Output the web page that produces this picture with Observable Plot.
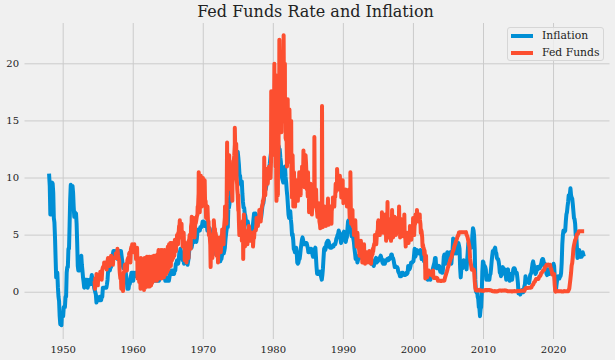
<!DOCTYPE html>
<html><head><meta charset="utf-8">
<script src="https://cdn.jsdelivr.net/npm/d3@7"></script>
<script src="https://cdn.jsdelivr.net/npm/@observablehq/plot@0.6"></script>
<style>
html,body{margin:0;padding:0;background:#f0f0f0;}
#wrap{position:relative;width:615px;height:360px;overflow:hidden;background:#f0f0f0;}
#title{height:23px;box-sizing:border-box;padding-top:1px;padding-left:16px;line-height:22px;text-align:center;font-family:"DejaVu Serif";font-size:16px;color:#222;white-space:nowrap;}
#legend{position:absolute;left:507px;top:27px;width:97px;height:34px;box-sizing:border-box;border:1px solid #d6d6d6;border-radius:3px;background:rgba(240,240,240,0.8);font-family:"DejaVu Serif";font-size:10.8px;color:#222;}
.item{position:absolute;left:3px;height:16px;line-height:16px;white-space:nowrap;}
.sw{position:absolute;left:0;top:6px;width:22px;height:4px;}
.lab{position:absolute;left:31px;top:0;}
</style></head>
<body>
<div id="wrap">
<div id="title">Fed Funds Rate and Inflation</div>
<div id="chart"></div>
<div id="legend"></div>
</div>
<script>
// ---- data ----
const seriesNames = ["Inflation", "Fed Funds"];
const seriesColors = ["#008fd5", "#fc4f30"];
const xTicks = [1950, 1960, 1970, 1980, 1990, 2000, 2010, 2020];
const yTicks = [0, 5, 10, 15, 20];

// CPI inflation, year over year %, monthly from January 1948
const inflationStart = 1948;
const inflation = [
10.2,9.3,6.8,8.3,9.4,9.6,9.5,8.7,6.5,6.1,4.8,3.0,
1.3,1.3,1.7,0.4,-0.4,-0.8,-2.1,-2.8,-2.4,-2.9,-1.8,-2.1,
-2.1,-1.3,-1.3,-1.3,-0.4,-0.4,1.7,2.2,2.2,3.8,3.8,5.9,
8.1,9.4,9.3,9.3,9.3,8.7,7.5,6.6,7.0,6.9,6.9,6.0,
4.3,2.3,1.9,2.3,1.9,2.3,3.0,3.2,2.4,1.9,1.3,0.9,
0.4,0.6,1.1,0.8,1.1,1.1,0.4,0.7,0.7,1.1,0.7,0.7,
1.1,1.5,1.1,0.7,0.9,0.4,0.2,0.0,-0.2,-0.9,-0.4,-0.7,
-0.7,-0.7,-0.7,-0.4,-0.7,-0.7,-0.4,-0.4,0.4,0.4,0.4,0.4,
0.4,0.4,0.4,0.7,1.1,1.9,2.2,1.9,1.9,2.2,2.2,2.9,
2.9,3.3,3.6,3.6,3.6,3.3,3.3,3.6,3.3,2.9,3.3,2.9,
3.6,3.2,3.6,3.6,3.2,2.8,2.4,2.1,2.1,2.1,2.1,1.8,
1.4,1.0,0.3,0.3,0.3,0.7,0.7,1.0,1.4,1.7,1.4,1.7,
1.0,1.7,1.4,1.7,1.7,1.7,1.4,1.4,1.4,1.4,1.4,1.4,
1.7,1.4,1.4,1.0,1.0,0.7,1.3,1.0,1.3,0.7,0.7,0.7,
0.7,1.0,1.0,1.3,1.3,1.3,1.0,1.3,1.3,1.3,1.3,1.3,
1.3,1.0,1.0,1.0,1.0,1.3,1.6,1.3,1.0,1.3,1.3,1.6,
1.6,1.6,1.3,1.3,1.3,1.3,1.3,1.0,1.3,1.0,1.3,1.0,
1.0,1.0,1.3,1.6,1.6,1.9,1.6,1.9,1.6,1.9,1.6,1.9,
1.9,2.5,2.5,2.8,2.8,2.5,2.8,3.5,3.5,3.8,3.5,3.5,
3.5,2.8,2.8,2.5,2.8,2.8,2.8,2.8,2.8,2.4,2.7,3.0,
3.7,4.0,4.0,4.0,3.9,4.2,4.5,4.4,4.4,4.4,4.8,4.7,
4.4,4.7,5.3,5.5,5.5,5.5,5.4,5.7,5.7,5.7,5.9,6.2,
6.2,6.1,5.8,6.1,6.1,6.0,6.0,5.4,5.7,5.7,5.6,5.6,
5.3,5.0,4.7,4.2,4.4,4.6,4.4,4.6,4.1,3.8,3.3,3.3,
3.3,3.5,3.5,3.5,3.2,2.7,2.9,2.9,3.2,3.4,3.7,3.4,
3.6,3.9,4.6,5.1,5.5,5.9,5.7,7.4,7.4,7.8,8.3,8.7,
9.4,10.0,10.4,10.1,10.7,10.9,11.5,10.9,11.9,12.1,12.2,12.3,
11.8,11.2,10.3,10.2,9.5,9.4,9.7,8.6,7.9,7.4,7.4,6.9,
6.7,6.3,6.1,6.0,6.2,5.9,5.4,5.7,5.5,5.5,4.9,4.9,
5.2,5.9,6.4,6.9,6.7,6.9,6.8,6.6,6.6,6.4,6.7,6.7,
6.8,6.4,6.6,6.5,6.9,7.4,7.7,7.8,8.3,8.9,8.9,9.0,
9.3,9.9,10.2,10.5,10.9,10.9,11.3,11.8,12.2,12.1,12.6,13.3,
13.9,14.2,14.8,14.7,14.4,14.4,13.1,12.9,12.6,12.8,12.6,12.5,
11.8,11.4,10.5,10.0,9.8,9.6,10.8,10.8,11.0,10.1,9.6,8.9,
8.4,7.6,6.8,6.5,6.7,7.1,6.4,5.9,5.0,5.1,4.6,3.8,
3.7,3.5,3.6,3.9,3.5,2.6,2.5,2.6,2.9,2.9,3.3,3.8,
4.2,4.6,4.8,4.6,4.2,4.2,4.2,4.3,4.3,4.3,4.1,3.9,
3.5,3.5,3.7,3.7,3.8,3.8,3.6,3.3,3.1,3.2,3.5,3.8,
3.9,3.1,2.2,1.6,1.6,1.8,1.6,1.6,1.8,1.5,1.3,1.1,
1.5,2.1,3.0,3.8,3.9,3.7,3.9,4.3,4.4,4.5,4.5,4.4,
4.0,3.9,3.9,3.9,3.9,4.0,4.1,4.0,4.2,4.2,4.2,4.4,
4.7,4.8,5.0,5.1,5.4,5.2,5.0,4.7,4.3,4.5,4.7,4.6,
5.2,5.3,5.2,4.7,4.4,4.7,4.8,5.6,6.2,6.3,6.3,6.1,
5.7,5.3,4.9,4.9,5.0,4.7,4.4,3.8,3.4,2.9,3.0,3.1,
2.6,2.8,3.2,3.2,3.0,3.1,3.2,3.1,3.0,3.2,3.0,2.9,
3.3,3.2,3.1,3.2,3.2,3.0,2.8,2.8,2.7,2.8,2.7,2.7,
2.5,2.5,2.5,2.4,2.3,2.5,2.8,2.9,3.0,2.6,2.7,2.7,
2.8,2.9,2.9,3.1,3.2,3.0,2.8,2.6,2.5,2.8,2.6,2.5,
2.7,2.7,2.8,2.9,2.9,2.8,3.0,2.9,3.0,3.0,3.3,3.3,
3.0,3.0,2.8,2.5,2.2,2.3,2.2,2.2,2.2,2.1,1.8,1.7,
1.6,1.4,1.4,1.4,1.7,1.7,1.7,1.6,1.5,1.5,1.5,1.6,
1.7,1.6,1.7,2.3,2.1,2.0,2.1,2.3,2.6,2.6,2.6,2.7,
2.7,3.2,3.8,3.1,3.2,3.7,3.7,3.4,3.5,3.4,3.4,3.4,
3.7,3.5,2.9,3.3,3.6,3.2,2.7,2.7,2.6,2.1,1.9,1.6,
1.1,1.1,1.5,1.6,1.2,1.1,1.5,1.8,1.5,2.0,2.2,2.4,
2.6,3.0,3.0,2.2,2.1,2.1,2.1,2.2,2.3,2.0,1.8,1.9,
1.9,1.7,1.7,2.3,3.1,3.3,3.0,2.7,2.5,3.2,3.5,3.3,
3.0,3.0,3.1,3.5,2.8,2.5,3.2,3.6,4.7,4.3,3.5,3.4,
4.0,3.6,3.4,3.5,4.2,4.3,4.1,3.8,2.1,1.3,2.0,2.5,
2.1,2.4,2.8,2.6,2.7,2.7,2.4,2.0,2.8,3.5,4.3,4.1,
4.3,4.0,4.0,3.9,4.2,5.0,5.6,5.4,4.9,3.7,1.1,0.1,
0.0,0.2,-0.4,-0.6,-1.3,-1.4,-2.1,-1.5,-1.3,-0.2,1.8,2.7,
2.6,2.1,2.3,2.2,2.0,1.1,1.2,1.1,1.1,1.2,1.1,1.5,
1.6,2.1,2.7,3.2,3.6,3.6,3.6,3.8,3.9,3.5,3.4,3.0,
2.9,2.9,2.7,2.3,1.7,1.7,1.4,1.7,2.0,2.2,1.8,1.7,
1.6,2.0,1.5,1.1,1.4,1.8,2.0,1.5,1.2,1.0,1.2,1.5,
1.6,1.1,1.5,2.0,2.1,2.1,2.0,1.7,1.7,1.7,1.3,0.8,
-0.1,0.0,-0.1,-0.2,0.0,0.1,0.2,0.2,0.0,0.2,0.5,0.7,
1.4,1.0,0.9,1.1,1.0,1.0,0.8,1.1,1.5,1.6,1.7,2.1,
2.5,2.7,2.4,2.2,1.9,1.6,1.7,1.9,2.2,2.0,2.2,2.1,
2.1,2.2,2.4,2.5,2.8,2.9,2.9,2.7,2.3,2.5,2.2,1.9,
1.6,1.5,1.9,2.0,1.8,1.6,1.8,1.7,1.7,1.8,2.1,2.3,
2.5,2.3,1.5,0.3,0.1,0.6,1.0,1.3,1.4,1.2,1.2,1.4,
1.4,1.7,2.6,4.2,5.0,5.4,5.4,5.3,5.4,6.2,6.8,7.0,
7.5,7.9,8.5,8.3,8.6,9.1,8.5,8.3,8.2,7.7,7.1,6.5,
6.4,6.0,5.0,4.9,4.0,3.0,3.2,3.7,3.7,3.2,3.1,3.4,
3.1,3.2,3.5,3.3
];

// Effective federal funds rate %, monthly from July 1954
const fedFundsStart = 1954.5;
const fedFunds = [
0.80,1.22,1.07,0.85,0.83,1.28,
1.39,1.29,1.35,1.43,1.43,1.64,1.68,1.96,2.18,2.24,2.35,2.48,
2.45,2.50,2.50,2.62,2.75,2.71,2.75,2.73,2.95,2.96,2.88,2.94,
2.84,3.00,2.96,3.00,3.00,3.00,2.99,3.24,3.47,3.50,3.28,2.98,
2.72,1.67,1.20,1.26,0.63,0.93,0.68,1.53,1.76,1.80,2.27,2.42,
2.48,2.43,2.80,2.96,2.90,3.39,3.47,3.50,3.76,3.98,4.00,3.99,
3.99,3.97,3.84,3.92,3.85,3.32,3.23,2.98,2.60,2.47,2.44,1.98,
1.45,2.54,2.02,1.49,1.98,1.73,1.17,2.00,1.88,2.26,2.61,2.33,
2.15,2.37,2.85,2.78,2.36,2.68,2.71,2.93,2.90,2.90,2.94,2.93,
2.92,3.00,2.98,2.90,3.00,2.99,3.02,3.49,3.48,3.50,3.48,3.38,
3.48,3.48,3.43,3.47,3.50,3.50,3.42,3.50,3.45,3.36,3.52,3.85,
3.90,3.98,4.04,4.09,4.10,4.04,4.09,4.12,4.01,4.08,4.10,4.32,
4.42,4.60,4.65,4.67,4.90,5.17,5.30,5.53,5.40,5.53,5.76,5.40,
4.94,5.00,4.53,4.05,3.94,3.98,3.79,3.90,3.99,3.88,4.13,4.51,
4.60,4.71,5.05,5.76,6.11,6.07,6.03,6.03,5.78,5.91,5.82,6.02,
6.30,6.64,6.79,7.41,8.67,8.90,8.61,9.19,9.15,9.00,8.85,8.97,
8.98,8.98,7.76,8.10,7.95,7.61,7.21,6.61,6.29,6.20,5.60,4.90,
4.14,3.72,3.71,4.16,4.63,4.91,5.31,5.57,5.55,5.20,4.91,4.14,
3.50,3.29,3.83,4.17,4.27,4.46,4.55,4.80,4.87,5.04,5.06,5.33,
5.94,6.58,7.09,7.12,7.84,8.49,10.40,10.50,10.78,10.01,10.03,9.95,
9.65,8.97,9.35,10.51,11.31,11.93,12.92,12.01,11.34,10.06,9.45,8.53,
7.13,6.24,5.54,5.49,5.22,5.55,6.10,6.14,6.24,5.82,5.22,5.20,
4.87,4.77,4.84,4.82,5.29,5.48,5.31,5.29,5.25,5.03,4.95,4.65,
4.61,4.68,4.69,4.73,5.35,5.39,5.42,5.90,6.14,6.47,6.51,6.56,
6.70,6.78,6.79,6.89,7.36,7.60,7.81,8.04,8.45,8.96,9.76,10.03,
10.07,10.06,10.09,10.01,10.24,10.29,10.47,10.94,11.43,13.77,13.18,13.78,
13.82,14.13,17.19,17.61,10.98,9.47,9.03,9.61,10.87,12.81,15.85,18.90,
19.08,15.93,14.70,15.72,18.52,19.10,19.04,17.82,15.87,15.08,13.31,12.37,
13.22,14.78,14.68,14.94,14.45,14.15,12.59,10.12,10.31,9.71,9.20,8.95,
8.68,8.51,8.77,8.80,8.63,8.98,9.37,9.56,9.45,9.48,9.34,9.47,
9.56,9.59,9.91,10.29,10.32,11.06,11.23,11.64,11.30,9.99,9.43,8.38,
8.35,8.50,8.58,8.27,7.97,7.53,7.88,7.90,7.92,7.99,8.05,8.27,
8.14,7.86,7.48,6.99,6.85,6.92,6.56,6.17,5.89,5.85,6.04,6.91,
6.43,6.10,6.13,6.37,6.85,6.73,6.58,6.73,7.22,7.29,6.69,6.77,
6.83,6.58,6.58,6.87,7.09,7.51,7.75,8.01,8.19,8.30,8.35,8.76,
9.12,9.36,9.85,9.84,9.81,9.53,9.24,8.99,9.02,8.84,8.55,8.45,
8.23,8.24,8.28,8.26,8.18,8.29,8.15,8.13,8.20,8.11,7.81,7.31,
6.91,6.25,6.12,5.91,5.78,5.90,5.82,5.66,5.45,5.21,4.81,4.43,
4.03,4.06,3.98,3.73,3.82,3.76,3.25,3.30,3.22,3.10,3.09,2.92,
3.02,3.03,3.07,2.96,3.00,3.04,3.06,3.03,3.09,2.99,3.02,2.96,
3.05,3.25,3.34,3.56,4.01,4.25,4.26,4.47,4.73,4.76,5.29,5.45,
5.53,5.92,5.98,6.05,6.01,6.00,5.85,5.74,5.80,5.76,5.80,5.60,
5.56,5.22,5.31,5.22,5.24,5.27,5.40,5.22,5.30,5.24,5.31,5.29,
5.25,5.19,5.39,5.51,5.50,5.56,5.52,5.54,5.54,5.50,5.52,5.50,
5.56,5.51,5.49,5.45,5.49,5.56,5.54,5.55,5.51,5.07,4.83,4.68,
4.63,4.76,4.81,4.74,4.74,4.76,4.99,5.07,5.22,5.20,5.42,5.30,
5.45,5.73,5.85,6.02,6.27,6.53,6.54,6.50,6.52,6.51,6.51,6.40,
5.98,5.49,5.31,4.80,4.21,3.97,3.77,3.65,3.07,2.49,2.09,1.82,
1.73,1.74,1.73,1.75,1.75,1.75,1.73,1.74,1.75,1.75,1.34,1.24,
1.24,1.26,1.25,1.26,1.26,1.22,1.01,1.03,1.01,1.01,1.00,0.98,
1.00,1.01,1.00,1.00,1.00,1.03,1.26,1.43,1.61,1.76,1.93,2.16,
2.28,2.50,2.63,2.79,3.00,3.04,3.26,3.50,3.62,3.78,4.00,4.16,
4.29,4.49,4.59,4.79,4.94,4.99,5.24,5.25,5.25,5.25,5.25,5.24,
5.25,5.26,5.26,5.25,5.25,5.25,5.26,5.02,4.94,4.76,4.49,4.24,
3.94,2.98,2.61,2.28,1.98,2.00,2.01,2.00,1.81,0.97,0.39,0.16,
0.15,0.22,0.18,0.15,0.18,0.21,0.16,0.16,0.15,0.12,0.12,0.12,
0.11,0.13,0.16,0.20,0.20,0.18,0.18,0.19,0.19,0.19,0.19,0.18,
0.17,0.16,0.14,0.10,0.09,0.09,0.07,0.10,0.08,0.07,0.08,0.07,
0.08,0.10,0.13,0.14,0.16,0.16,0.16,0.13,0.14,0.16,0.16,0.16,
0.14,0.15,0.14,0.15,0.11,0.09,0.09,0.08,0.08,0.09,0.08,0.09,
0.07,0.07,0.08,0.09,0.09,0.10,0.09,0.09,0.09,0.09,0.09,0.12,
0.11,0.11,0.11,0.12,0.12,0.13,0.13,0.14,0.14,0.12,0.12,0.24,
0.34,0.38,0.36,0.37,0.37,0.38,0.39,0.40,0.40,0.40,0.41,0.54,
0.65,0.66,0.79,0.90,0.91,1.04,1.15,1.16,1.15,1.15,1.16,1.30,
1.41,1.42,1.51,1.69,1.70,1.82,1.91,1.91,1.95,2.19,2.20,2.27,
2.40,2.40,2.41,2.42,2.39,2.38,2.40,2.13,2.04,1.83,1.55,1.55,
1.55,1.58,0.65,0.05,0.05,0.08,0.09,0.10,0.09,0.09,0.09,0.09,
0.09,0.08,0.07,0.07,0.06,0.08,0.10,0.09,0.08,0.08,0.08,0.08,
0.08,0.08,0.20,0.33,0.77,1.21,1.68,2.33,2.56,3.08,3.78,4.10,
4.33,4.57,4.65,4.83,5.06,5.08,5.12,5.33,5.33,5.33,5.33,5.33,
5.33,5.33
];

// Daily extremes of the fed funds rate: [year, %]
const fedFundsDaily = [
[1954.55,0.3],[1954.75,1.6],[1954.95,0.6],[1955.3,1.8],[1955.5,1.1],[1955.85,2.6],
[1956.2,2.0],[1956.4,3.0],[1956.6,2.3],[1956.85,3.2],[1957.1,2.4],[1957.5,3.4],[1957.75,3.8],
[1958.05,2.0],[1958.3,0.3],[1958.45,1.6],[1958.55,0.1],[1958.8,2.4],
[1959.1,1.9],[1959.4,3.2],[1959.6,2.6],[1959.85,4.2],[1960.05,3.5],
[1960.15,4.2],[1960.4,2.9],[1960.55,3.9],[1960.62,1.2],[1960.75,3.0],[1960.85,0.9],[1960.95,2.8],
[1961.04,0.3],[1961.1,3.0],[1961.2,0.6],[1961.27,2.9],[1961.37,0.3],[1961.45,2.6],[1961.54,0.2],[1961.62,3.0],[1961.7,0.4],[1961.79,2.9],[1961.87,0.6],[1961.95,3.1],
[1962.04,0.5],[1962.12,3.0],[1962.2,0.8],[1962.29,3.1],[1962.37,0.5],[1962.45,3.0],[1962.54,0.6],[1962.62,3.1],[1962.7,0.8],[1962.79,3.1],[1962.87,1.0],[1962.95,3.2],
[1963.04,1.0],[1963.12,3.2],[1963.2,1.2],[1963.29,3.1],[1963.37,1.0],[1963.45,3.3],[1963.54,1.3],[1963.62,3.7],[1963.7,1.2],[1963.79,3.6],[1963.87,1.5],[1963.95,3.7],
[1964.04,1.2],[1964.12,3.7],[1964.2,1.4],[1964.29,3.6],[1964.37,1.3],[1964.45,3.7],[1964.54,1.5],[1964.62,3.6],[1964.7,1.6],[1964.79,3.6],[1964.87,1.8],[1964.95,4.0],
[1965.04,2.0],[1965.12,4.2],[1965.2,2.5],[1965.29,4.3],[1965.37,2.3],[1965.45,4.3],[1965.54,2.8],[1965.62,4.3],[1965.7,3.0],[1965.79,4.3],[1965.87,3.2],[1965.95,4.6],
[1966.1,3.6],[1966.25,5.0],[1966.4,4.2],[1966.55,5.8],[1966.65,6.3],[1966.75,4.8],[1966.9,6.0],
[1967.05,4.0],[1967.2,5.2],[1967.35,2.8],[1967.5,4.3],[1967.6,2.6],[1967.75,4.2],[1967.9,3.0],
[1968.05,5.0],[1968.2,3.8],[1968.35,6.6],[1968.5,5.0],[1968.62,6.5],[1968.75,4.8],[1968.9,6.5],
[1969.2,7.5],[1969.35,10.5],[1969.5,7.0],[1969.65,10.2],[1969.8,7.5],[1969.95,10.0],
[1970.1,7.8],[1970.2,9.8],[1970.4,6.5],[1970.6,7.5],[1970.8,5.0],[1971.05,2.2],[1971.2,4.5],[1971.3,3.0],[1971.5,6.3],[1971.7,4.2],[1971.9,3.2],
[1972.1,2.6],[1972.3,4.8],[1972.5,3.5],[1972.7,5.5],[1972.9,4.2],
[1973.1,7.5],[1973.3,6.0],[1973.4,13.1],[1973.55,9.0],[1973.7,12.0],[1973.85,9.2],
[1974.0,11.0],[1974.15,8.0],[1974.3,11.5],[1974.5,14.4],[1974.6,11.0],[1974.7,13.0],[1974.85,9.0],
[1975.0,8.5],[1975.15,5.0],[1975.3,6.0],[1975.5,4.5],[1975.7,2.9],[1975.8,6.8],[1975.95,4.0],
[1976.1,5.3],[1976.3,4.2],[1976.5,5.8],[1976.7,4.5],[1976.9,5.2],
[1977.1,4.0],[1977.3,5.2],[1977.6,6.5],[1977.8,5.8],
[1978.0,7.2],[1978.2,6.2],[1978.5,8.0],[1978.7,11.8],[1978.85,8.5],
[1979.0,10.8],[1979.2,9.5],[1979.4,11.0],[1979.6,10.0],[1979.7,17.6],[1979.8,12.0],[1979.9,15.0],
[1980.0,12.5],[1980.15,20.0],[1980.25,14.0],[1980.35,19.0],[1980.45,8.0],[1980.55,11.0],[1980.65,8.5],[1980.75,14.0],[1980.86,22.1],[1980.95,16.0],
[1981.05,20.5],[1981.15,14.0],[1981.3,19.5],[1981.4,16.0],[1981.47,22.5],[1981.55,17.0],[1981.65,20.0],[1981.75,13.5],[1981.85,16.5],[1981.95,11.0],
[1982.05,16.9],[1982.15,12.5],[1982.3,16.0],[1982.45,11.4],[1982.55,15.0],[1982.65,8.3],[1982.75,12.0],[1982.85,7.5],[1982.95,10.5],
[1983.1,7.5],[1983.3,9.8],[1983.5,8.0],[1983.7,10.5],[1983.9,8.5],
[1984.1,11.0],[1984.3,12.4],[1984.45,9.2],[1984.6,12.0],[1984.8,9.0],[1984.95,10.5],
[1985.1,7.0],[1985.3,9.5],[1985.5,6.8],[1985.7,9.0],[1985.86,13.6],[1985.95,7.5],
[1986.1,9.0],[1986.3,6.6],[1986.5,7.8],[1986.7,5.6],[1986.95,16.3],
[1987.05,5.7],[1987.3,7.5],[1987.5,5.8],[1987.8,8.2],[1987.9,5.9],
[1988.1,7.5],[1988.3,6.0],[1988.5,8.3],[1988.7,7.5],[1988.9,9.5],
[1989.1,10.8],[1989.3,9.0],[1989.5,10.2],[1989.7,8.3],[1989.9,9.8],
[1990.0,7.8],[1990.3,9.0],[1990.5,7.5],[1990.8,9.0],[1990.9,6.5],
[1991.0,10.5],[1991.1,6.0],[1991.3,7.2],[1991.5,5.0],[1991.7,6.3],[1991.9,4.0],
[1992.0,5.2],[1992.3,3.2],[1992.5,4.5],[1992.7,2.6],[1992.95,4.2],
[1993.1,2.5],[1993.3,3.5],[1993.5,2.6],[1993.7,3.6],[1993.95,2.5],
[1994.2,3.8],[1994.5,5.0],[1994.7,4.2],[1994.95,6.2],
[1995.0,6.3],[1995.2,5.0],[1995.5,7.0],[1995.7,5.2],[1995.95,6.8],
[1996.1,4.5],[1996.3,7.9],[1996.45,4.8],[1996.6,6.4],[1996.8,4.5],[1996.95,7.2],
[1997.1,4.8],[1997.3,6.6],[1997.5,5.0],[1997.7,6.5],[1997.95,7.5],
[1998.1,4.8],[1998.3,6.4],[1998.5,4.9],[1998.7,6.8],[1998.9,4.0],
[1999.1,5.2],[1999.3,4.3],[1999.5,5.8],[1999.7,4.6],[1999.95,6.5],
[2000.1,5.0],[2000.3,6.8],[2000.5,7.2],[2000.7,6.2],[2000.9,6.8],
[2001.05,5.2],[2001.3,4.0],[2001.55,3.3],[2001.7,1.2],[2001.8,3.2],[2001.95,1.3],
[2002.2,1.9],[2002.5,1.5],[2002.8,1.9]
];

// ---- build rows ----
const inflRows = inflation.map((v, i) => ({date: inflationStart + i / 12, value: v}));
const ffRows = fedFunds.map((v, i) => ({date: fedFundsStart + i / 12, value: v}))
  .concat(fedFundsDaily.map(([d, v]) => ({date: d, value: v})))
  .sort((a, b) => a.date - b.date);

const chart = Plot.plot({
  width: 615,
  height: 337,
  marginTop: 0,
  marginBottom: 21,
  marginLeft: 24.5,
  marginRight: 5.5,
  style: {background: "#f0f0f0", fontFamily: "DejaVu Serif", fontSize: "10px", color: "#222"},
  x: {domain: [1944.55, 2028.06], label: null},
  y: {domain: [-4.14, 23.53], label: null},
  marks: [
    Plot.gridX(xTicks, {stroke: "#cbcbcb", strokeOpacity: 1, strokeWidth: 1}),
    Plot.gridY(yTicks, {stroke: "#cbcbcb", strokeOpacity: 1, strokeWidth: 1}),
    Plot.axisX(xTicks, {tickSize: 0, tickPadding: 6, tickFormat: "d", label: null}),
    Plot.axisY(yTicks, {tickSize: 0, tickPadding: 6, label: null}),
    Plot.line(inflRows, {x: "date", y: "value", stroke: seriesColors[0], strokeWidth: 4, strokeLinejoin: "round", strokeLinecap: "square"}),
    Plot.line(ffRows, {x: "date", y: "value", stroke: seriesColors[1], strokeWidth: 4, strokeLinejoin: "round", strokeLinecap: "square"})
  ]
});
document.getElementById("chart").appendChild(chart);

const legend = document.getElementById("legend");
seriesNames.forEach((name, i) => {
  const item = document.createElement("div");
  item.className = "item";
  item.style.top = (i === 0 ? 0 : 16.5) + "px";
  item.innerHTML = `<span class="sw" style="background:${seriesColors[i]}"></span><span class="lab">${name}</span>`;
  legend.appendChild(item);
});
</script>
</body></html>
